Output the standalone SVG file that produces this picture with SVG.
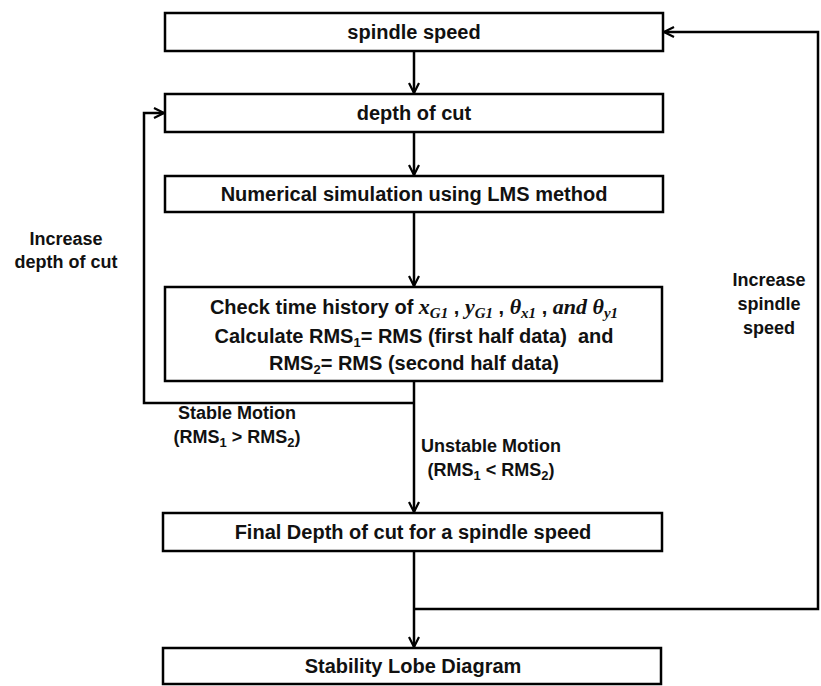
<svg xmlns="http://www.w3.org/2000/svg" width="821" height="686" viewBox="0 0 821 686">
<defs>
<style>
.box{fill:#fff;stroke:#000;stroke-width:2.5}
.ln{fill:none;stroke:#000;stroke-width:2.5}
.t{font-family:"Liberation Sans",Arial,sans-serif;font-weight:bold;font-size:20px;fill:#111;text-anchor:middle}
.l{font-size:18px}
.m{font-family:"Liberation Serif","DejaVu Serif",serif;font-style:italic;font-weight:bold;font-size:22px}
.s{font-size:13px}
.ms{font-size:15px}
</style>
<marker id="ah" viewBox="0 0 12 12" refX="11" refY="6" markerWidth="12" markerHeight="12" markerUnits="userSpaceOnUse" orient="auto">
<path d="M1,1 L11,6 L1,11" fill="none" stroke="#000" stroke-width="2.2"/>
</marker>
</defs>
<rect width="821" height="686" fill="#fff"/>
<g id="connectors">
<line class="ln" x1="414" y1="51" x2="414" y2="93" marker-end="url(#ah)"/>
<line class="ln" x1="414" y1="132" x2="414" y2="175" marker-end="url(#ah)"/>
<line class="ln" x1="414" y1="212" x2="414" y2="286" marker-end="url(#ah)"/>
<line class="ln" x1="414" y1="381" x2="414" y2="512" marker-end="url(#ah)"/>
<line class="ln" x1="414" y1="551" x2="414" y2="647" marker-end="url(#ah)"/>
<polyline class="ln" points="414,403 144,403 144,113 164,113" marker-end="url(#ah)"/>
<polyline class="ln" points="414,609 818,609 818,32 664,32" marker-end="url(#ah)"/>
</g>
<g id="n1"><rect class="box" x="165" y="13" width="498" height="38"/><text class="t" x="414" y="39">spindle speed</text></g>
<g id="n2"><rect class="box" x="165" y="94" width="498" height="38"/><text class="t" x="414" y="120">depth of cut</text></g>
<g id="n3"><rect class="box" x="165" y="176" width="498" height="36"/><text class="t" x="414" y="201">Numerical simulation using LMS method</text></g>
<g id="n4"><rect class="box" x="165" y="287" width="497" height="94"/>
<text class="t" x="414" y="314">Check time history of <tspan class="m">x</tspan><tspan class="m ms" dy="4">G1</tspan><tspan dy="-4"> , </tspan><tspan class="m">y</tspan><tspan class="m ms" dy="4">G1</tspan><tspan dy="-4"> , </tspan><tspan class="m">θ</tspan><tspan class="m ms" dy="4">x1</tspan><tspan dy="-4"> , </tspan><tspan class="m">and θ</tspan><tspan class="m ms" dy="4">y1</tspan></text>
<text class="t" x="414" y="343" xml:space="preserve">Calculate RMS<tspan class="s" dy="4">1</tspan><tspan dy="-4">= RMS (first half data)  and</tspan></text>
<text class="t" x="414" y="370">RMS<tspan class="s" dy="4">2</tspan><tspan dy="-4">= RMS (second half data)</tspan></text>
</g>
<g id="n5"><rect class="box" x="163" y="513" width="499" height="38"/><text class="t" x="413" y="539">Final Depth of cut for a spindle speed</text></g>
<g id="n6"><rect class="box" x="163" y="648" width="498" height="36"/><text class="t" x="413" y="673">Stability Lobe Diagram</text></g>
<g id="labels">
<text class="t l" x="66" y="245">Increase</text>
<text class="t l" x="66" y="268">depth of cut</text>
<text class="t l" x="769" y="286">Increase</text>
<text class="t l" x="769" y="310">spindle</text>
<text class="t l" x="769" y="334">speed</text>
<text class="t l" x="237" y="419">Stable Motion</text>
<text class="t l" x="237" y="443">(RMS<tspan class="s" dy="4">1</tspan><tspan dy="-4"> &gt; RMS</tspan><tspan class="s" dy="4">2</tspan><tspan dy="-4">)</tspan></text>
<text class="t l" x="491" y="452">Unstable Motion</text>
<text class="t l" x="491" y="476">(RMS<tspan class="s" dy="4">1</tspan><tspan dy="-4"> &lt; RMS</tspan><tspan class="s" dy="4">2</tspan><tspan dy="-4">)</tspan></text>
</g>
</svg>
